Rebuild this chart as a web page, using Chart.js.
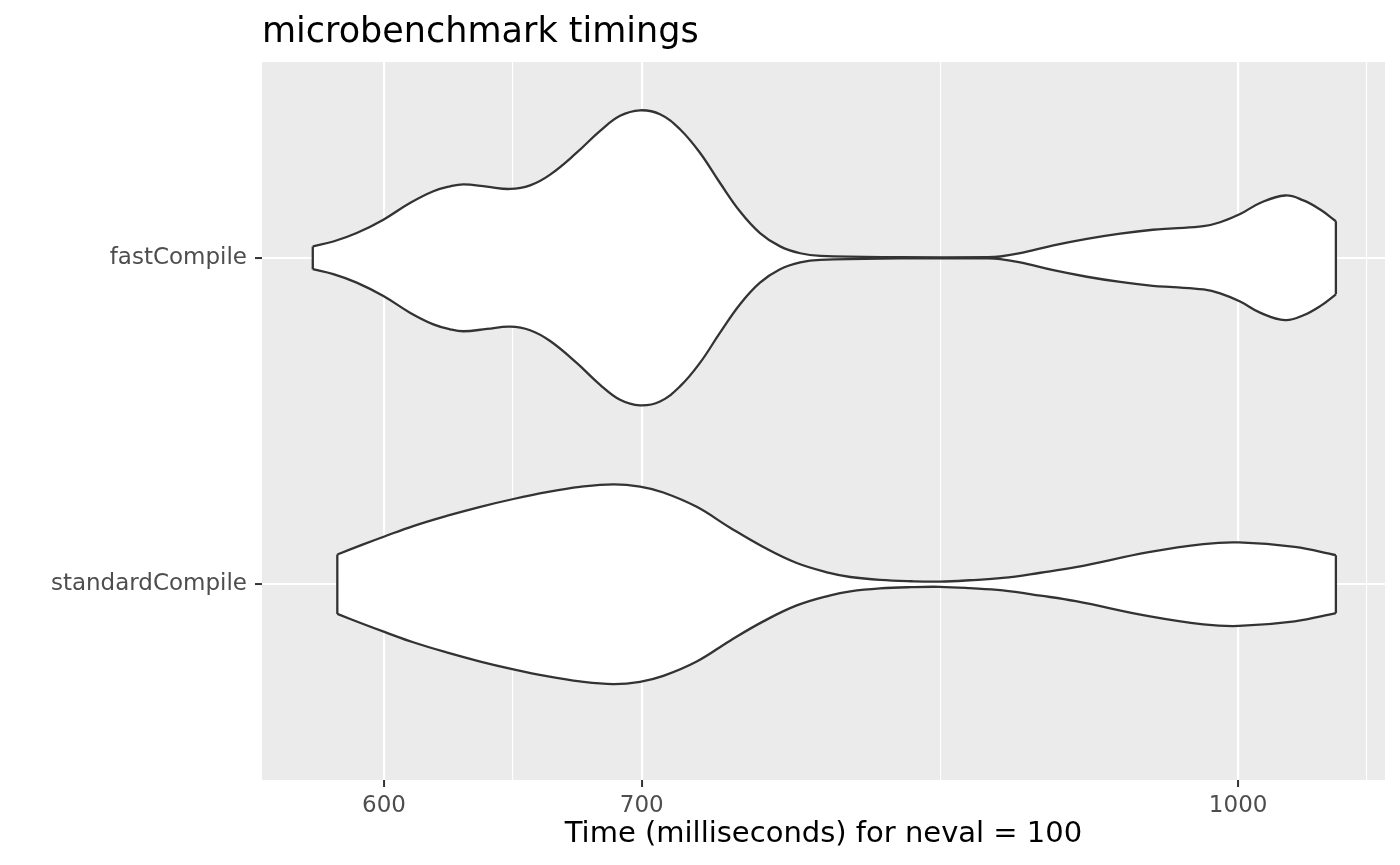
<!DOCTYPE html>
<html>
<head>
<meta charset="utf-8">
<script src="https://cdn.jsdelivr.net/npm/chart.js@4/dist/chart.umd.min.js"></script>
<style>
  html, body { margin: 0; padding: 0; background: #ffffff; }
  #box { width: 1400px; height: 865px; }
</style>
</head>
<body>
<div id="box"><canvas id="violin" width="1400" height="865"></canvas></div>
<script>
// groups, bottom to top on the y axis
const groups = ['standardCompile', 'fastCompile'];
const groupPos = [1, 2];

// x breaks (log scale, ms)
const majorBreaks = [600, 700, 1000];
const minorBreaks = [648, 837, 1080];

// fastCompile: time (ms) and violin half-width (category units)
const fastTimes  = [575.0, 582.1, 590.3, 599.8, 609.4, 618.0, 624.2, 629.2, 638.1, 647.0, 654.8, 662.7, 673.3, 682.8, 691.0, 699.3, 707.7, 716.2, 724.8, 733.5, 742.4, 751.3, 760.4, 769.6, 778.9, 817.0, 860.7, 867.4, 877.8, 895.4, 913.5, 931.9, 950.2, 962.0, 979.5, 989.3, 1001.2, 1013.2, 1028.5, 1039.8, 1050.3, 1060.2];
const fastWidths = [0.035, 0.050, 0.076, 0.117, 0.168, 0.204, 0.219, 0.225, 0.218, 0.211, 0.222, 0.255, 0.322, 0.389, 0.435, 0.452, 0.440, 0.394, 0.322, 0.230, 0.142, 0.076, 0.035, 0.014, 0.006, 0.002, 0.002, 0.004, 0.014, 0.038, 0.058, 0.074, 0.086, 0.090, 0.097, 0.109, 0.134, 0.168, 0.191, 0.176, 0.148, 0.112];

// standardCompile
const stdTimes  = [583.5, 592.6, 600.4, 610.6, 622.9, 635.6, 648.3, 661.4, 674.6, 688.2, 699.3, 709.1, 723.4, 738.0, 752.8, 768.0, 783.6, 793.0, 807.2, 822.4, 836.6, 851.8, 868.7, 888.5, 907.5, 947.9, 979.4, 1000.4, 1034.4, 1060.2];
const stdWidths = [0.091, 0.122, 0.147, 0.178, 0.209, 0.237, 0.261, 0.282, 0.298, 0.306, 0.299, 0.281, 0.237, 0.173, 0.114, 0.065, 0.034, 0.022, 0.013, 0.009, 0.008, 0.012, 0.019, 0.035, 0.052, 0.098, 0.123, 0.128, 0.114, 0.089];

const chartTitle = 'microbenchmark timings';
const xTitle = 'Time (milliseconds) for neval = 100';

const outline = '#333333';
const font = '"DejaVu Sans", "Noto Sans", sans-serif';

function side(times, widths, center, sign) {
  return times.map((t, i) => ({ x: t, y: center + sign * widths[i] }));
}

function ends(times, widths, center) {
  const n = times.length - 1;
  return [
    { x: times[0], y: center + widths[0] },
    { x: times[0], y: center - widths[0] },
    { x: times[0], y: null },
    { x: times[n], y: center + widths[n] },
    { x: times[n], y: center - widths[n] }
  ];
}

function curve(data, fill) {
  return {
    data: data,
    borderColor: outline,
    borderWidth: 2.3,
    backgroundColor: '#ffffff',
    fill: fill,
    pointRadius: 0,
    tension: 0.4
  };
}

const fastC = groupPos[1], stdC = groupPos[0];

const datasets = [
  curve(side(fastTimes, fastWidths, fastC, 1), false),
  curve(side(fastTimes, fastWidths, fastC, -1), '-1'),
  curve(side(stdTimes, stdWidths, stdC, 1), false),
  curve(side(stdTimes, stdWidths, stdC, -1), '-1'),
  {
    data: ends(fastTimes, fastWidths, fastC).concat([{ x: fastTimes[0], y: null }], ends(stdTimes, stdWidths, stdC)),
    borderColor: outline,
    borderWidth: 2.3,
    fill: false,
    pointRadius: 0,
    tension: 0,
    spanGaps: false
  }
];

const panelBg = {
  id: 'panelBg',
  beforeDraw(chart) {
    const { ctx, chartArea: a } = chart;
    ctx.save();
    ctx.fillStyle = '#ffffff';
    ctx.fillRect(0, 0, chart.width, chart.height);
    ctx.fillStyle = '#EBEBEB';
    ctx.fillRect(a.left, a.top, a.right - a.left, a.bottom - a.top);
    ctx.restore();
  }
};

const ggTitle = {
  id: 'ggTitle',
  afterDraw(chart) {
    const ctx = chart.ctx;
    ctx.save();
    ctx.font = '35px ' + font;
    ctx.fillStyle = '#000000';
    ctx.textAlign = 'left';
    ctx.textBaseline = 'alphabetic';
    ctx.fillText(chartTitle, chart.chartArea.left, 42);
    ctx.restore();
  }
};

const isMajor = v => majorBreaks.includes(v);

new Chart(document.getElementById('violin'), {
  type: 'line',
  data: { datasets: datasets },
  plugins: [panelBg, ggTitle],
  options: {
    responsive: false,
    animation: false,
    events: [],
    layout: { padding: { top: 62, right: 15, left: 0, bottom: 0 } },
    plugins: {
      legend: { display: false },
      tooltip: { enabled: false },
      filler: { drawTime: 'beforeDatasetsDraw' }
    },
    scales: {
      x: {
        type: 'logarithmic',
        min: 557.8,
        max: 1091.8,
        bounds: 'data',
        afterBuildTicks: s => {
          s.ticks = majorBreaks.concat(minorBreaks).sort((a, b) => a - b).map(v => ({ value: v }));
        },
        afterFit: s => { s.height = 85; },
        border: { display: false },
        grid: {
          color: '#ffffff',
          lineWidth: c => (isMajor(c.tick.value) ? 2.1 : 1.1),
          drawTicks: true,
          tickLength: 7,
          tickWidth: 2,
          tickColor: c => (isMajor(c.tick.value) ? outline : 'rgba(0,0,0,0)')
        },
        ticks: {
          autoSkip: false,
          maxRotation: 0,
          padding: 5,
          color: '#4D4D4D',
          font: { family: font, size: 23 },
          callback: v => (isMajor(v) ? String(v) : '')
        },
        title: {
          display: true,
          text: xTitle,
          color: '#000000',
          font: { family: font, size: 29 },
          padding: { top: 0, bottom: 13 }
        }
      },
      y: {
        type: 'linear',
        min: 0.4,
        max: 2.6,
        afterBuildTicks: s => { s.ticks = groupPos.map(v => ({ value: v })); },
        afterFit: s => { s.width = 262; },
        border: { display: false },
        grid: {
          color: '#ffffff',
          lineWidth: 2.1,
          tickLength: 7,
          tickWidth: 2,
          tickColor: outline
        },
        ticks: {
          padding: 8,
          color: '#4D4D4D',
          font: { family: font, size: 23 },
          callback: v => groups[groupPos.indexOf(v)]
        }
      }
    }
  }
});
</script>
</body>
</html>
